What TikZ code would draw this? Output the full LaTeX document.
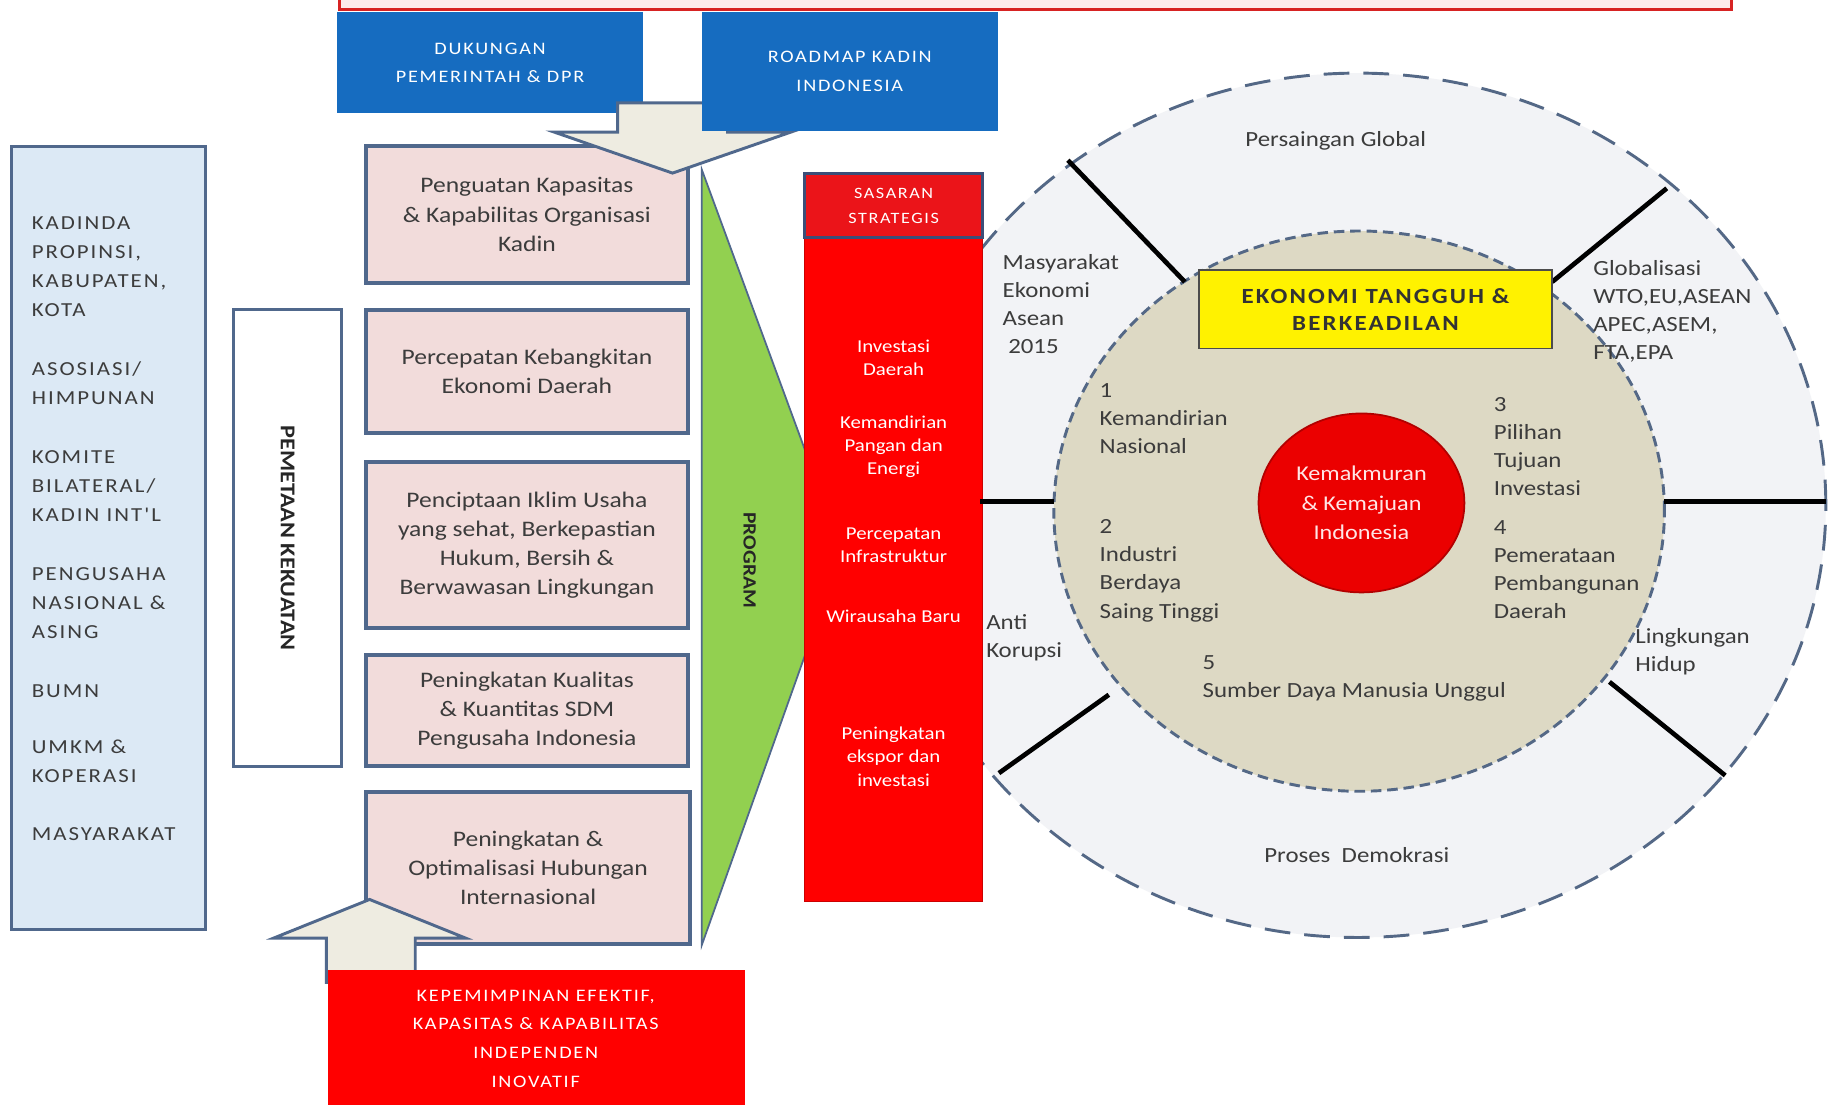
\documentclass[tikz,border=0pt]{standalone}
\usepackage{fontspec}
\setmainfont{Carlito}
\newfontfamily\spacedfont[LetterSpace=10]{Carlito}
\newfontfamily\widefont[FakeStretch=1.15]{Carlito}
\newfontfamily\spacedwide[LetterSpace=10,FakeStretch=1.15]{Carlito}
\usetikzlibrary{shapes.geometric}
\definecolor{pinkfill}{RGB}{242,220,219}
\definecolor{bluefill}{RGB}{22,108,192}
\definecolor{lightblue}{RGB}{220,233,245}
\definecolor{boxline}{RGB}{80,104,140}
\definecolor{greenfill}{RGB}{146,208,80}
\definecolor{arrowfill}{RGB}{238,236,225}
\definecolor{outerfill}{RGB}{242,243,246}
\definecolor{innerfill}{RGB}{221,217,196}
\definecolor{dashcol}{RGB}{84,104,134}
\definecolor{redfill}{RGB}{255,0,0}
\definecolor{textgray}{RGB}{60,60,60}
\definecolor{toppink}{RGB}{253,236,236}
\definecolor{topred}{RGB}{215,35,35}
\definecolor{headred}{RGB}{235,20,25}
\definecolor{navyline}{RGB}{60,78,120}
\newcommand\myfs[2]{\fontsize{#1}{#2}\selectfont}
\tikzset{
  rectbox/.style={rectangle, inner sep=0pt, outer sep=0pt, anchor=north west, align=center},
  pinkbox/.style={rectbox, draw=boxline, line width=3pt, fill=pinkfill, text=textgray, font=\widefont\myfs{19}{25}},
  bluebox/.style={rectbox, fill=bluefill, text=white, font=\spacedwide\myfs{15}{24}},
  redtext/.style={text=white, align=center, font=\widefont\myfs{15.5}{20}, inner sep=0pt},
  circtext/.style={text=textgray, align=left, font=\widefont\myfs{18.5}{24}, inner sep=0pt, anchor=west},
  lefttext/.style={text=textgray, font=\spacedwide\myfs{17}{25}, inner sep=0pt, anchor=base west},
  blockarrow/.style={fill=arrowfill, draw=boxline, line width=2.5pt, line join=miter},
  spoke/.style={line width=4pt, black},
}
\begin{document}
\begin{tikzpicture}[x=1pt,y=-1pt]
\useasboundingbox (0,0) rectangle (1568,944);
\fill[white] (0,0) rectangle (1568,944);
% top red-bordered box (cut off)
\draw[fill=toppink, draw=topred, line width=2.5pt] (290,-40) rectangle (1480,8);
% blue box 1
\node[bluebox, minimum width=262, minimum height=87] (dpr) at (288,10) {DUKUNGAN\\PEMERINTAH \& DPR};
% left light blue box
\node[rectbox, draw=boxline, line width=2.5pt, fill=lightblue, minimum width=166, minimum height=670] (stake) at (10,125) {};
\foreach \t/\yy [count=\i] in {KADINDA/196, {PROPINSI,}/221, {KABUPATEN,}/246, KOTA/271,
  ASOSIASI\slash/321, HIMPUNAN/346, KOMITE/396, BILATERAL\slash/421, {KADIN INT'L}/446,
  PENGUSAHA/496, {NASIONAL \&}/521, ASING/546, BUMN/596, {UMKM \&}/644, KOPERASI/669, MASYARAKAT/719}
  \node[lefttext] (st\i) at (27,\yy) {\t};
% pemetaan kekuatan
\node[rectbox, draw=boxline, line width=2.5pt, fill=white, minimum width=92, minimum height=390] (pk) at (200,265) {};
\node[rotate=-90, font=\bfseries\widefont\myfs{18}{20}, text=black!85, inner sep=0pt] (pktext) at (pk.center) {PEMETAAN KEKUATAN};
% pink boxes
\node[pinkbox, minimum width=275, minimum height=117] (p1) at (313,125) {Penguatan Kapasitas\\\& Kapabilitas Organisasi\\Kadin};
\node[pinkbox, minimum width=275, minimum height=105] (p2) at (313,265) {Percepatan Kebangkitan\\Ekonomi Daerah};
\node[pinkbox, minimum width=275, minimum height=142] (p3) at (313,395) {Penciptaan Iklim Usaha\\yang sehat, Berkepastian\\Hukum, Bersih \&\\Berwawasan Lingkungan};
\node[pinkbox, minimum width=275, minimum height=95] (p4) at (313,560) {Peningkatan Kualitas\\\& Kuantitas SDM\\Pengusaha Indonesia};
\node[pinkbox, minimum width=277, minimum height=130] (p5) at (313,677) {Peningkatan \&\\Optimalisasi Hubungan\\Internasional};
% green program triangle
\draw[fill=greenfill, draw=boxline, line width=1.5pt] (600,145) -- (720,471) -- (600,808) -- cycle;
\node[rotate=-90, font=\bfseries\widefont\myfs{16}{18}, text=black!85, inner sep=0pt] (prog) at (641,479) {PROGRAM};
% down arrow
\draw[blockarrow] (528,88) -- (622,88) -- (622,113) -- (676,113) -- (575,148) -- (474,113) -- (528,113) -- cycle;
% blue box 2
\node[bluebox, minimum width=253, minimum height=102] (roadmap) at (600,10) {ROADMAP KADIN\\INDONESIA};
% up arrow
\draw[blockarrow] (279,840) -- (279,802) -- (234,802) -- (316,769) -- (398,802) -- (355,802) -- (355,840) -- cycle;
% bottom red box
\node[rectbox, fill=redfill, minimum width=357, minimum height=140] (lead) at (280,829) {};
\node[text=white, font=\spacedwide\myfs{15}{24.5}, align=center, inner sep=0pt] (leadtext) at (458,888) {KEPEMIMPINAN EFEKTIF,\\KAPASITAS \& KAPABILITAS\\INDEPENDEN\\INOVATIF};
% outer / inner circles
\node[ellipse, draw=dashcol, fill=outerfill, line width=2.5pt, dash pattern=on 22pt off 12pt, minimum width=800, minimum height=739, inner sep=0pt] (outer) at (1161,432) {};
\node[ellipse, draw=dashcol, fill=innerfill, line width=2.5pt, dash pattern=on 9pt off 5pt, minimum width=522, minimum height=479, inner sep=0pt] (inner) at (1162,437) {};
% red column
\node[rectbox, fill=redfill, draw=redfill!80!black, line width=1pt, minimum width=152, minimum height=623] (sas) at (688,148) {};
\node[rectbox, fill=headred, draw=navyline, line width=2.5pt, minimum width=152, minimum height=55] (sashead) at (688,148) {};
\node[redtext, font=\spacedwide\myfs{13.5}{22}] (sastext) at (764,176) {SASARAN\\STRATEGIS};
\node[redtext] (s1) at (764,306) {Investasi\\Daerah};
\node[redtext] (s2) at (764,382) {Kemandirian\\Pangan dan\\Energi};
\node[redtext] (s3) at (764,466) {Percepatan\\Infrastruktur};
\node[redtext] (s4) at (764,527) {Wirausaha Baru};
\node[redtext] (s5) at (764,647) {Peningkatan\\ekspor dan\\investasi};
% spokes
\coordinate (a1) at (913,137); \coordinate (b1) at (1013,241);
\coordinate (a2) at (1425,161); \coordinate (b2) at (1327,241);
\coordinate (a3) at (838,429); \coordinate (b3) at (901,429);
\coordinate (a4) at (1423,429); \coordinate (b4) at (1561,429);
\coordinate (a5) at (854,661); \coordinate (b5) at (948,594);
\coordinate (a6) at (1376,583); \coordinate (b6) at (1475,663);
\foreach \i in {1,...,6} \draw[spoke] (a\i) -- (b\i);
% yellow box
\node[rectbox, fill=yellow, draw=black!70, line width=1.5pt, minimum width=302, minimum height=67, font=\bfseries\spacedwide\myfs{18.5}{23}, text=black!80] (eko) at (1025,231) {EKONOMI TANGGUH \&\\BERKEADILAN};
% red circle
\node[ellipse, fill=redfill!92!black, draw=red!70!black, line width=1.5pt, minimum width=176, minimum height=153, inner sep=0pt, text=white!90!red, align=center, font=\widefont\myfs{18}{25}] (core) at (1164,430) {Kemakmuran\\\& Kemajuan\\Indonesia};
% circle texts
\node[text=textgray, font=\widefont\myfs{18.5}{24}, inner sep=0pt] (pg) at (1142,120) {Persaingan Global};
\node[circtext] (mea) at (857,260) {Masyarakat\\Ekonomi\\Asean\\\ 2015};
\node[circtext] (glob) at (1362,266) {Globalisasi\\WTO,EU,ASEAN\\APEC,ASEM,\\FTA,EPA};
\node[circtext] (k1) at (940,358) {1\\Kemandirian\\Nasional};
\node[circtext] (k2) at (940,488) {2\\Industri\\Berdaya\\Saing Tinggi};
\node[circtext] (k3) at (1277,382) {3\\Pilihan\\Tujuan\\Investasi};
\node[circtext] (k4) at (1277,487) {4\\Pemerataan\\Pembangunan\\Daerah};
\node[circtext] (k5) at (1028,580) {5\\Sumber Daya Manusia Unggul};
\node[circtext] (anti) at (843,545) {Anti\\Korupsi};
\node[circtext] (ling) at (1398,557) {Lingkungan\\Hidup};
\node[text=textgray, font=\widefont\myfs{18.5}{24}, inner sep=0pt] (demo) at (1160,731) {Proses\ \ Demokrasi};
\end{tikzpicture}
\end{document}
